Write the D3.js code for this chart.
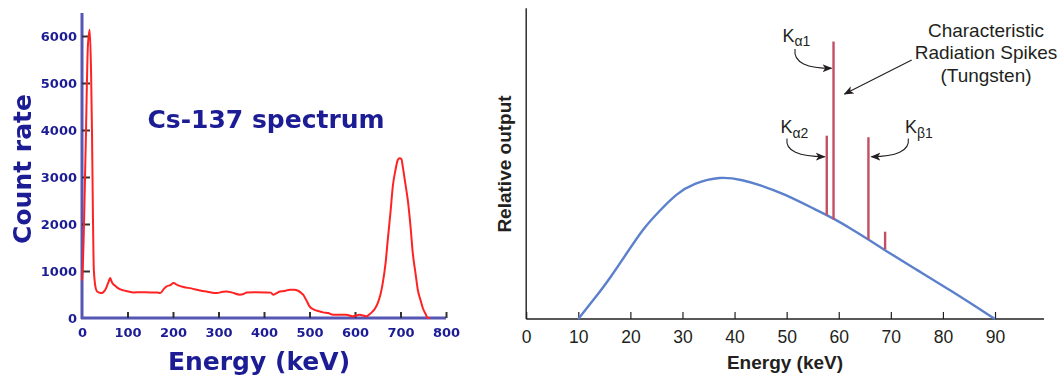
<!DOCTYPE html>
<html>
<head>
<meta charset="utf-8">
<script src="https://cdn.jsdelivr.net/npm/d3@7"></script>
<style>
	body { margin: 0; background: #fff; }
	svg { display: block; }
</style>
</head>
<body>
<svg id="chart" width="1060" height="377"></svg>
<script>

// ---- left panel: Cs-137 spectrum ----
const csEnergy = [0, 2, 8, 13, 17, 20, 22, 24, 26, 30, 33, 38, 44, 49, 53, 58, 62, 64, 67, 73, 80, 91, 100, 113, 130, 150, 165, 172, 180, 186, 194, 201, 210, 223, 240, 259, 275, 296, 310, 318, 330, 347, 355, 362, 380, 405, 415, 420, 428, 435, 445, 457, 466, 475, 481, 486, 493, 500, 510, 522, 530, 541, 552, 566, 581, 595, 610, 625, 632, 639, 645, 650, 656, 661, 667, 672, 678, 683, 689, 694, 698, 702, 705, 710, 716, 722, 727, 733, 738, 744, 749, 755, 760, 765];
const csCount  = [800, 1170, 3600, 5800, 6135, 5200, 3930, 2200, 1030, 640, 566, 540, 530, 570, 637, 760, 850, 800, 740, 686, 630, 587, 570, 545, 550, 545, 545, 530, 620, 672, 700, 743, 700, 658, 630, 587, 560, 530, 560, 566, 540, 495, 510, 545, 550, 545, 540, 495, 530, 566, 575, 601, 600, 580, 540, 495, 380, 248, 180, 141, 120, 106, 70, 70, 70, 35, 70, 35, 80, 141, 220, 318, 500, 743, 1150, 1663, 2250, 2795, 3150, 3361, 3400, 3380, 3220, 2900, 2512, 1950, 1380, 950, 601, 380, 212, 90, 0, 0];
const csXTicks = [0, 100, 200, 300, 400, 500, 600, 700, 800];
const csYTicks = [0, 1000, 2000, 3000, 4000, 5000, 6000];

// ---- right panel: x-ray tube spectrum ----
const xrEnergy = [10, 12.9, 16.1, 19.9, 22.5, 25.7, 28.9, 32.1, 37.2, 41.7, 44.9, 49.4, 55.8, 59.0, 62.2, 65.7, 68.6, 75.0, 81.4, 90];
const xrOutput = [0, 6.1, 13.1, 22.7, 29.2, 35.0, 40.4, 43.6, 46.0, 44.7, 43.1, 40.4, 35.0, 32.4, 29.2, 25.6, 22.4, 15.8, 9.3, 0];
const spikeEnergy = [57.7, 59.0, 65.7, 68.9];
const spikeBase   = [33.4, 32.0, 25.6, 22.4];
const spikeTop    = [59.0, 89.3, 58.5, 28.1];
const xrXTicks = [0, 10, 20, 30, 40, 50, 60, 70, 80, 90];

const svg = d3.select('#chart');

// the left figure is a soft, upscaled bitmap in the reference
svg.append('defs').append('filter')
	.attr('id', 'soft')
	.append('feGaussianBlur')
	.attr('stdDeviation', 0.55);

/* ---------- left panel ---------- */

const navy = '#1b1b95';
const left = svg.append('g').attr('filter', 'url(#soft)');

const xL = d3.scaleLinear().domain([0, 800]).range([82, 446]),
	yL = d3.scaleLinear().domain([0, 6000]).range([318, 36]);

// axis lines
left.append('line')
	.attr('x1', xL(0)).attr('x2', xL(0))
	.attr('y1', yL(0) + 1).attr('y2', 13)
	.attr('stroke', '#5656b4').attr('stroke-width', 3);
left.append('line')
	.attr('x1', xL(0) - 1).attr('x2', xL(800))
	.attr('y1', yL(0)).attr('y2', yL(0))
	.attr('stroke', '#5656b4').attr('stroke-width', 3);

const axYL = left.append('g')
	.attr('transform', 'translate(' + xL(0) + ',0)')
	.call(d3.axisLeft(yL).tickValues(csYTicks).tickSize(-8).tickPadding(5).tickFormat(d3.format('d')));
axYL.select('.domain').remove();
axYL.selectAll('.tick line').attr('stroke', '#333').attr('stroke-width', 2)
	.filter(d => d === 0).remove();
axYL.selectAll('.tick text')
	.attr('font-family', 'DejaVu Sans').attr('font-weight', 'bold')
	.attr('font-size', 13).attr('fill', navy);

const axXL = left.append('g')
	.attr('transform', 'translate(0,' + yL(0) + ')')
	.call(d3.axisBottom(xL).tickValues(csXTicks).tickSize(-6).tickPadding(10).tickFormat(d3.format('d')));
axXL.select('.domain').remove();
axXL.selectAll('.tick line').attr('stroke', '#333').attr('stroke-width', 2)
	.filter(d => d === 0).remove();
axXL.selectAll('.tick text')
	.attr('font-family', 'DejaVu Sans').attr('font-weight', 'bold')
	.attr('font-size', 13).attr('fill', navy);

// spectrum
left.append('path')
	.datum(csEnergy.map((e, i) => [e, csCount[i]]))
	.attr('fill', 'none')
	.attr('stroke', '#ff2424')
	.attr('stroke-width', 2)
	.attr('stroke-linejoin', 'round')
	.attr('d', d3.line().x(d => xL(d[0])).y(d => yL(d[1])).curve(d3.curveMonotoneX));

left.append('text')
	.attr('x', 266).attr('y', 128)
	.attr('text-anchor', 'middle')
	.attr('font-family', 'DejaVu Sans').attr('font-weight', 'bold')
	.attr('font-size', 25).attr('fill', navy)
	.text('Cs-137 spectrum');

left.append('text')
	.attr('transform', 'translate(31,169) rotate(-90)')
	.attr('text-anchor', 'middle')
	.attr('font-family', 'DejaVu Sans').attr('font-weight', 'bold')
	.attr('font-size', 25).attr('fill', navy)
	.text('Count rate');

left.append('text')
	.attr('x', 259).attr('y', 370)
	.attr('text-anchor', 'middle')
	.attr('font-family', 'DejaVu Sans').attr('font-weight', 'bold')
	.attr('font-size', 25).attr('fill', navy)
	.text('Energy (keV)');

/* ---------- right panel ---------- */

const ink = '#231f20',
	spikeColor = '#c24f63',
	sans = 'Liberation Sans, Arial, Helvetica, sans-serif';
const right = svg.append('g');

const xR = d3.scaleLinear().domain([0, 100]).range([526.2, 1047.1]),
	yR = d3.scaleLinear().domain([0, 100]).range([319, 8.3]);

right.append('line')
	.attr('x1', xR(0)).attr('x2', xR(0))
	.attr('y1', yR(0)).attr('y2', yR(100))
	.attr('stroke', ink).attr('stroke-width', 1.4);
right.append('line')
	.attr('x1', xR(0)).attr('x2', xR(99.4))
	.attr('y1', yR(0)).attr('y2', yR(0))
	.attr('stroke', ink).attr('stroke-width', 1.4);

const axXR = right.append('g')
	.attr('transform', 'translate(0,' + yR(0) + ')')
	.call(d3.axisBottom(xR).tickValues(xrXTicks).tickSize(-7).tickPadding(12));
axXR.select('.domain').remove();
axXR.selectAll('.tick line').attr('stroke', ink).attr('stroke-width', 1.2);
axXR.selectAll('.tick text')
	.attr('font-family', sans).attr('font-size', 17.5).attr('fill', ink);

// bremsstrahlung continuum
right.append('path')
	.datum(xrEnergy.map((e, i) => [e, xrOutput[i]]))
	.attr('fill', 'none')
	.attr('stroke', '#5b80cc')
	.attr('stroke-width', 2.4)
	.attr('d', d3.line().x(d => xR(d[0])).y(d => yR(d[1])).curve(d3.curveBasis));

// characteristic spikes
right.selectAll('.spike')
	.data(spikeEnergy)
	.join('line')
	.attr('class', 'spike')
	.attr('x1', d => xR(d)).attr('x2', d => xR(d))
	.attr('y1', (d, i) => yR(spikeBase[i])).attr('y2', (d, i) => yR(spikeTop[i]))
	.attr('stroke', spikeColor).attr('stroke-width', 2.4);

right.append('text')
	.attr('x', 785).attr('y', 369)
	.attr('text-anchor', 'middle')
	.attr('font-family', sans).attr('font-weight', 'bold')
	.attr('font-size', 19).attr('fill', ink)
	.text('Energy (keV)');

right.append('text')
	.attr('transform', 'translate(511,164) rotate(-90)')
	.attr('text-anchor', 'middle')
	.attr('font-family', sans).attr('font-weight', 'bold')
	.attr('font-size', 19).attr('fill', ink)
	.text('Relative output');

// annotation
right.append('defs').append('marker')
	.attr('id', 'head')
	.attr('viewBox', '0 0 10 10')
	.attr('refX', 9).attr('refY', 5)
	.attr('markerWidth', 10).attr('markerHeight', 10)
	.attr('markerUnits', 'userSpaceOnUse')
	.attr('orient', 'auto')
	.append('path')
	.attr('d', 'M0,1L10,5L0,9L2.6,5Z')
	.attr('fill', ink);

const label = right.append('text')
	.attr('text-anchor', 'middle')
	.attr('font-family', sans).attr('font-size', 19).attr('fill', ink);
['Characteristic', 'Radiation Spikes', '(Tungsten)'].forEach((t, i) => {
	label.append('tspan').attr('x', 986).attr('y', 36.7 + i * 22.5).text(t);
});

const kLabels = [
	{ sub: 'α2', x: 780.5, y: 133.3 },
	{ sub: 'α1', x: 782.5, y: 41.7 },
	{ sub: 'β1', x: 905, y: 133.3 }
];
kLabels.forEach(k => {
	const t = right.append('text')
		.attr('x', k.x).attr('y', k.y)
		.attr('font-family', sans).attr('font-size', 18).attr('fill', ink);
	t.append('tspan').text('K');
	t.append('tspan').attr('dy', 4.5).attr('font-size', 14).text(k.sub);
});

const arrows = [
	// Kα1
	'M795,49C793,63 808,68.3 ' + (xR(spikeEnergy[1]) - 2) + ',68.3',
	// Kα2
	'M787,138.5C785,151 799,156.7 ' + (xR(spikeEnergy[0]) - 2) + ',156.7',
	// Kβ1
	'M908.3,138.5C910,151 896,156.7 ' + (xR(spikeEnergy[2]) + 3) + ',156.7',
	// to the spikes
	'M911.7,60L' + (xR(spikeEnergy[1]) + 11) + ',94'
];
right.selectAll('.arrow')
	.data(arrows)
	.join('path')
	.attr('class', 'arrow')
	.attr('d', d => d)
	.attr('fill', 'none')
	.attr('stroke', ink).attr('stroke-width', 1.1)
	.attr('marker-end', 'url(#head)');

</script>
</body>
</html>
